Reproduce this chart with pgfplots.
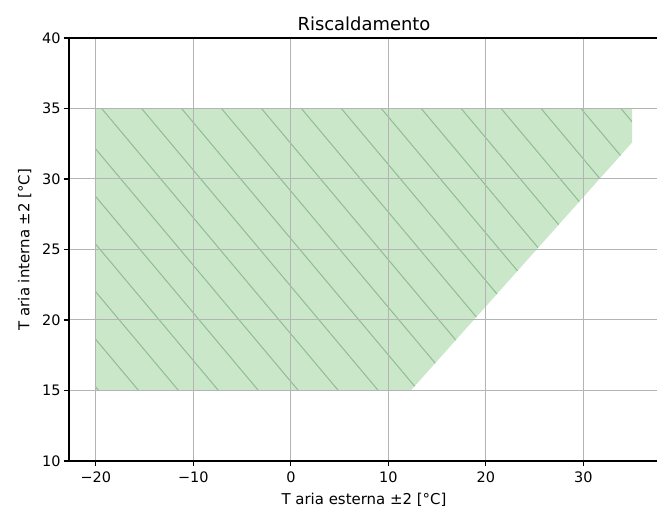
\documentclass[border=0pt]{standalone}
\usepackage{fontspec}
\setmainfont{DejaVu Sans}
\usepackage{pgfplots}
\pgfplotsset{compat=1.18}
\usetikzlibrary{patterns.meta}
\definecolor{fillgreen}{RGB}{202,231,202}
\definecolor{hatchgreen}{RGB}{145,188,145}
\definecolor{gridgray}{RGB}{180,180,180}
\begin{document}
\begin{tikzpicture}
\begin{axis}[name=ax, scale only axis, width=590bp, height=423bp,
  xmin=-22.75, xmax=37.75, ymin=10, ymax=40,
  xtick={-20,-10,0,10,20,30}, xticklabels={−20,−10,0,10,20,30},
  ytick={10,15,20,25,30,35,40},
  grid=major, major grid style={gridgray, line width=1bp},
  axis line style={black, line width=1.1bp},
  tick align=outside, major tick length=5bp, tick style={black, line width=1.1bp},
  xtick pos=left, ytick pos=left,
  ticklabel style={font=\fontsize{14.5}{17}\selectfont},
  xticklabel style={yshift=-2bp},
  /pgf/number format/assume math mode=true,
  title={Riscaldamento}, title style={font=\fontsize{18}{21}\selectfont, yshift=-2bp},
  xlabel={T aria esterna ±2 [°C]}, ylabel={T aria interna ±2 [°C]},
  label style={font=\fontsize{15}{18}\selectfont},
  xlabel style={yshift=-4bp},
  ylabel style={yshift=4bp},
  axis on top,
]
\addplot[draw=none, fill=fillgreen] coordinates {(-20,15) (12.3,15) (35,32.6) (35,35) (-20,35)};
\addplot[draw=none, pattern={Lines[angle=-50,distance=30.6bp,line width=1bp]}, pattern color=hatchgreen] coordinates {(-20,15) (12.3,15) (35,32.6) (35,35) (-20,35)};
\end{axis}
\pgfresetboundingbox
\path[use as bounding box] ([xshift=-69bp,yshift=-50bp]ax.south west) rectangle ([xshift=-2bp,yshift=38bp]ax.north east);
\end{tikzpicture}
\end{document}
